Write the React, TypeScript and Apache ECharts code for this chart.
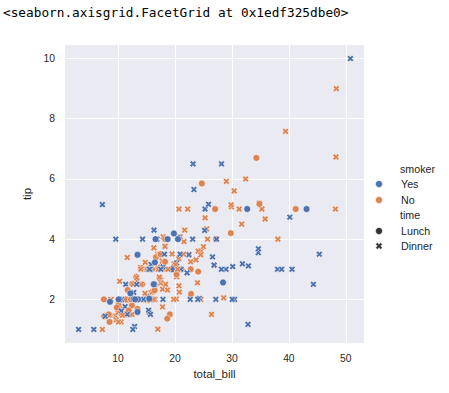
import React, { useEffect, useRef } from "react";
import * as echarts from "echarts";

// seaborn "tips" data
const totalBill = [
  16.99, 10.34, 21.01, 23.68, 24.59, 25.29, 8.77, 26.88, 15.04, 14.78,
  10.27, 35.26, 15.42, 18.43, 14.83, 21.58, 10.33, 16.29, 16.97, 20.65,
  17.92, 20.29, 15.77, 39.42, 19.82, 17.81, 13.37, 12.69, 21.7, 19.65,
  9.55, 18.35, 15.06, 20.69, 17.78, 24.06, 16.31, 16.93, 18.69, 31.27,
  16.04, 17.46, 13.94, 9.68, 30.4, 18.29, 22.23, 32.4, 28.55, 18.04,
  12.54, 10.29, 34.81, 9.94, 25.56, 19.49, 38.01, 26.41, 11.24, 48.27,
  20.29, 13.81, 11.02, 18.29, 17.59, 20.08, 16.45, 3.07, 20.23, 15.01,
  12.02, 17.07, 26.86, 25.28, 14.73, 10.51, 17.92, 27.2, 22.76, 17.29,
  19.44, 16.66, 10.07, 32.68, 15.98, 34.83, 13.03, 18.28, 24.71, 21.16,
  28.97, 22.49, 5.75, 16.32, 22.75, 40.17, 27.28, 12.03, 21.01, 12.46,
  11.35, 15.38, 44.3, 22.42, 20.92, 15.36, 20.49, 25.21, 18.24, 14.31,
  14.0, 7.25, 38.07, 23.95, 25.71, 17.31, 29.93, 10.65, 12.43, 24.08,
  11.69, 13.42, 14.26, 15.95, 12.48, 29.8, 8.52, 14.52, 11.38, 22.82,
  19.08, 20.27, 11.17, 12.26, 18.26, 8.51, 10.33, 14.15, 16.0, 13.16,
  17.47, 34.3, 41.19, 27.05, 16.43, 8.35, 18.64, 11.87, 9.78, 7.51,
  14.07, 13.13, 17.26, 24.55, 19.77, 29.85, 48.17, 25.0, 13.39, 16.49,
  21.5, 12.66, 16.21, 13.81, 17.51, 24.52, 20.76, 31.71, 10.59, 10.63,
  50.81, 15.81, 7.25, 31.85, 16.82, 32.9, 17.89, 14.48, 9.6, 34.63,
  34.65, 23.33, 45.35, 23.17, 40.55, 20.69, 20.9, 30.46, 18.15, 23.1,
  15.69, 19.81, 28.44, 15.48, 16.58, 7.56, 10.34, 43.11, 13.0, 13.51,
  18.71, 12.74, 13.0, 16.4, 20.53, 16.47, 26.59, 38.73, 24.27, 12.76,
  30.06, 25.89, 48.33, 13.27, 28.17, 12.9, 28.15, 11.59, 7.74, 30.14,
  12.16, 13.42, 8.58, 15.98, 13.42, 16.27, 10.09, 20.45, 13.28, 22.12,
  24.01, 15.69, 11.61, 10.77, 15.53, 10.07, 12.6, 32.83, 35.83, 29.03,
  27.18, 22.67, 17.82, 18.78,
];

const tip = [
  1.01, 1.66, 3.5, 3.31, 3.61, 4.71, 2.0, 3.12, 1.96, 3.23,
  1.71, 5.0, 1.57, 3.0, 3.02, 3.92, 1.67, 3.71, 3.5, 3.35,
  4.08, 2.75, 2.23, 7.58, 3.18, 2.34, 2.0, 2.0, 4.3, 3.0,
  1.45, 2.5, 3.0, 2.45, 3.27, 3.6, 2.0, 3.07, 2.31, 5.0,
  2.24, 2.54, 3.06, 1.32, 5.6, 3.0, 5.0, 6.0, 2.05, 3.0,
  2.5, 2.6, 5.2, 1.56, 4.34, 3.51, 3.0, 1.5, 1.76, 6.73,
  3.21, 2.0, 1.98, 3.76, 2.64, 3.15, 2.47, 1.0, 2.01, 2.09,
  1.97, 3.0, 3.14, 5.0, 2.2, 1.25, 3.08, 4.0, 3.0, 2.71,
  3.0, 3.4, 1.83, 5.0, 2.03, 5.17, 2.0, 4.0, 5.85, 3.0,
  3.0, 3.5, 1.0, 4.3, 3.25, 4.73, 4.0, 1.5, 3.0, 1.5,
  2.5, 3.0, 2.5, 3.48, 4.08, 1.64, 4.06, 4.29, 3.76, 4.0,
  3.0, 1.0, 4.0, 2.55, 4.0, 3.5, 5.07, 1.5, 1.8, 2.92,
  2.31, 1.68, 2.5, 2.0, 2.52, 4.2, 1.48, 2.0, 2.0, 2.18,
  1.5, 2.83, 1.5, 2.0, 3.25, 1.25, 2.0, 2.0, 2.0, 2.75,
  3.5, 6.7, 5.0, 5.0, 2.3, 1.5, 1.36, 1.63, 1.73, 2.0,
  2.5, 2.0, 2.74, 2.0, 2.0, 5.14, 5.0, 3.75, 2.61, 2.0,
  3.5, 2.5, 2.0, 2.0, 3.0, 3.48, 2.24, 4.5, 1.61, 2.0,
  10.0, 3.16, 5.15, 3.18, 4.0, 3.11, 2.0, 2.0, 4.0, 3.55,
  3.68, 5.65, 3.5, 6.5, 3.0, 5.0, 3.5, 2.0, 3.5, 4.0,
  1.5, 4.19, 2.56, 2.02, 4.0, 1.44, 2.0, 5.0, 2.0, 2.0,
  4.0, 2.01, 2.0, 2.5, 4.0, 3.23, 3.41, 3.0, 2.03, 2.23,
  2.0, 5.16, 9.0, 2.5, 6.5, 1.1, 3.0, 1.5, 1.44, 3.09,
  2.2, 3.48, 1.92, 3.0, 1.58, 2.5, 2.0, 3.0, 2.72, 2.88,
  2.0, 3.0, 3.39, 1.47, 3.0, 1.25, 1.0, 1.17, 4.67, 5.92,
  2.0, 2.0, 1.75, 3.0,
];

// Y = smoker "Yes", N = "No"
const smokerCodes = [
  "NNNNNNNNNN", "NNNNNNNNNN", "NNNNNNNNNN", "NNNNNNNNNN", "NNNNNNNNNN",
  "NNNNNNYNYN", "YYYYNNNYNY", "NNYYNNYNNN", "YNNYNNNNNN", "YNYYNYYYYN",
  "YYYYNYYYNY", "NNNNNNNNNN", "NNNNNNNNNN", "NNNNNNNNYN", "NNNNNNNNNN",
  "NNNNNNNNNN", "NNNNYNNNYY", "YYYYYYYYYY", "YYYYYNYYYY", "YYYYYNYYYY",
  "YYYYYYYYYY", "YYNYYYYYYY", "YYYNYYYNNY", "YYNNYNYYNN", "YYNN",
].join("");

// L = "Lunch", D = "Dinner"
const timeCodes = [
  "DDDDDDDDDD", "DDDDDDDDDD", "DDDDDDDDDD", "DDDDDDDDDD", "DDDDDDDDDD",
  "DDDDDDDDDD", "DDDDDDDDDD", "DDDDDDDLLL", "LLLLLLLLLL", "DDDDDDDDDD",
  "DDDDDDDDDD", "DDDDDDDLLL", "LLLLLLLLLL", "LLLLLLLLLL", "LLLLLLLLLL",
  "DDDDDDDDDD", "DDDDDDDDDD", "DDDDDDDDDD", "DDDDDDDDDD", "DLLLLLLLLL",
  "LLLLLLDDDD", "DDDDDDDDDD", "LLLLLLLDDD", "DDDDDDDDDD", "DDDD",
].join("");

const smoker = smokerCodes.split("").map((c) => (c === "Y" ? "Yes" : "No"));
const time = timeCodes.split("").map((c) => (c === "L" ? "Lunch" : "Dinner"));

const smokerLevels = ["Yes", "No"];
const timeLevels = ["Lunch", "Dinner"];
const xTicks = [10, 20, 30, 40, 50];
const yTicks = [2, 4, 6, 8, 10];

const COLORS: Record<string, string> = { Yes: "#4C72B0", No: "#DD8452" };
const X_SYMBOL = "path://M1 0L2 1L3 0L4 1L3 2L4 3L3 4L2 3L1 4L0 3L1 2L0 1Z";
const TEXT = "#262626";
const FONT = "'Liberation Sans', Arial, sans-serif";

function pad(arr: number[]) {
  const lo = Math.min(...arr);
  const hi = Math.max(...arr);
  const m = (hi - lo) * 0.05;
  return [lo - m, hi + m];
}

export default function App() {
  const ref = useRef<HTMLDivElement>(null);
  useEffect(() => {
    if (!ref.current) return;
    const chart = echarts.init(ref.current, undefined, { renderer: "svg" });
    const [xmin, xmax] = pad(totalBill);
    const [ymin, ymax] = pad(tip);

    const data = totalBill.map((x, i) => ({
      value: [x, tip[i]],
      symbol: time[i] === "Lunch" ? "circle" : X_SYMBOL,
      symbolSize: time[i] === "Lunch" ? 6.8 : 6.6,
      itemStyle: { color: COLORS[smoker[i]] },
    }));

    const legendX = 379;
    const textX = 401;
    const legendFont = `10.7px ${FONT}`;
    const legendItems: any[] = [
      { type: "text", x: 400, y: 169, style: { text: "smoker", fill: TEXT, font: legendFont, textVerticalAlign: "middle" } },
    ];
    const ys = [184, 200];
    smokerLevels.forEach((s, k) => {
      legendItems.push({ type: "circle", shape: { cx: legendX, cy: ys[k], r: 3.5 }, style: { fill: COLORS[s], stroke: "#fff", lineWidth: 0.5 } });
      legendItems.push({ type: "text", x: textX, y: ys[k], style: { text: s, fill: TEXT, font: legendFont, textVerticalAlign: "middle" } });
    });
    legendItems.push({ type: "text", x: 400, y: 215, style: { text: "time", fill: TEXT, font: legendFont, textVerticalAlign: "middle" } });
    const ts = [231, 246];
    timeLevels.forEach((t, k) => {
      if (t === "Lunch") {
        legendItems.push({ type: "circle", shape: { cx: legendX, cy: ts[k], r: 3.5 }, style: { fill: "#333333", stroke: "#fff", lineWidth: 0.5 } });
      } else {
        const c = legendX, m = ts[k], u = 3.4 / 2;
        const pts = [[-1, -2], [0, -1], [1, -2], [2, -1], [1, 0], [2, 1], [1, 2], [0, 1], [-1, 2], [-2, 1], [-1, 0], [-2, -1]].map(([a, b]) => [c + a * u, m + b * u]);
        legendItems.push({ type: "polygon", shape: { points: pts }, style: { fill: "#333333", stroke: "#fff", lineWidth: 0.5 } });
      }
      legendItems.push({ type: "text", x: textX, y: ts[k], style: { text: t, fill: TEXT, font: legendFont, textVerticalAlign: "middle" } });
    });

    chart.setOption({
      animation: false,
      backgroundColor: "#ffffff",
      textStyle: { fontFamily: FONT },
      grid: {
        left: 65,
        right: 85,
        top: 45,
        bottom: 50,
        show: true,
        backgroundColor: "#EAEAF2",
        borderWidth: 0,
        containLabel: false,
      },
      xAxis: {
        type: "value",
        min: xmin,
        max: xmax,
        name: "total_bill",
        nameLocation: "middle",
        nameGap: 22,
        nameTextStyle: { color: TEXT, fontSize: 11.5, fontFamily: FONT },
        axisLine: { show: false },
        axisTick: { show: false, customValues: xTicks },
        axisLabel: { customValues: xTicks, color: TEXT, fontSize: 10.3, margin: 10, fontFamily: FONT },
        splitLine: { show: true, lineStyle: { color: "#ffffff", width: 1 } },
      },
      yAxis: {
        type: "value",
        min: ymin,
        max: ymax,
        name: "tip",
        nameLocation: "middle",
        nameGap: 24,
        nameTextStyle: { color: TEXT, fontSize: 11.5, fontFamily: FONT },
        axisLine: { show: false },
        axisTick: { show: false, customValues: yTicks },
        axisLabel: { customValues: yTicks, color: TEXT, fontSize: 10.3, margin: 10, fontFamily: FONT },
        splitLine: { show: true, lineStyle: { color: "#ffffff", width: 1 } },
      },
      series: [
        {
          type: "scatter",
          data,
          itemStyle: { borderColor: "#ffffff", borderWidth: 0.5, opacity: 1 },
          emphasis: { disabled: true },
        },
      ],
      graphic: [
        {
          type: "text",
          x: 3,
          y: 12,
          style: {
            text: "<seaborn.axisgrid.FacetGrid at 0x1edf325dbe0>",
            fill: "#000000",
            font: "12.75px 'DejaVu Sans Mono', monospace",
            textVerticalAlign: "middle",
          },
        },
        ...legendItems,
      ],
    });
    return () => chart.dispose();
  }, []);

  return (
    <div
      ref={ref}
      style={{ position: "fixed", left: 0, top: 0, width: 449, height: 393, background: "#fff" }}
    />
  );
}
